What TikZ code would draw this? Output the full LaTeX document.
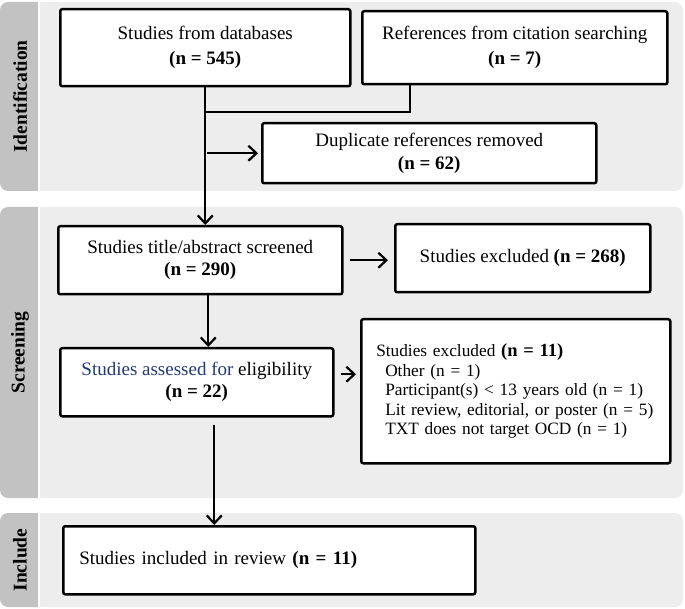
\documentclass[tikz,border=0pt]{standalone}
\usepackage{fontspec}
\setmainfont{Liberation Serif}
\usetikzlibrary{arrows.meta}
\definecolor{bandgray}{HTML}{EDEDED}
\definecolor{stripgray}{HTML}{C2C2C2}
\definecolor{darkblue}{HTML}{203A78}
\tikzset{
  box/.style={draw, line width=2.5pt, fill=white, rounded corners=2pt, inner sep=0pt,
    align=center, font=\fontsize{19}{25}\selectfont},
  arr/.style={-{Straight Barb[length=8pt,width=15pt]}, line width=2.2pt},
  link/.style={line width=2.2pt}
}
\begin{document}
\begin{tikzpicture}[x=1pt,y=-1pt]
  \useasboundingbox (0,0) rectangle (685,609);
  % stage bands
  \foreach \top/\bot/\stage in {2/191/Identification, 207/498/Screening, 513/607/Include}{
    \fill[stripgray, rounded corners=8pt] (0,\top) rectangle (48,\bot);
    \fill[white] (38,\top) rectangle (40,\bot);
    \fill[bandgray, rounded corners=8pt] (40,\top) rectangle (683,\bot);
    \fill[bandgray] (40,\top) rectangle (52,\bot);
    \node[rotate=90, font=\fontsize{19.5}{22}\selectfont\bfseries] (\stage) at (20,{(\top+\bot)/2}) {\stage};
  }
  % identification
  \node[box, anchor=north west, minimum width=290pt, minimum height=77pt] (db) at (59,8)
    {Studies from databases\\\textbf{(n = 545)}};
  \node[box, anchor=north west, minimum width=305pt, minimum height=73pt] (cit) at (361,10)
    {References from citation searching\\\textbf{(n = 7)}};
  \node[box, anchor=north west, minimum width=334pt, minimum height=60pt,
    font=\fontsize{19}{23}\selectfont] (dup) at (261,122)
    {Duplicate references removed\\\textbf{(n = 62)}};
  % screening
  \node[box, anchor=north west, minimum width=284pt, minimum height=68pt,
    font=\fontsize{19}{22}\selectfont] (scr) at (57,225)
    {Studies title/abstract screened\\\textbf{(n = 290)}};
  \node[box, anchor=north west, minimum width=255pt, minimum height=68pt] (ex1) at (394,223)
    {Studies excluded \textbf{(n = 268)}};
  \node[box, anchor=north west, minimum width=273pt, minimum height=68pt,
    font=\fontsize{19}{22}\selectfont] (elig) at (59,347)
    {\textcolor{darkblue}{Studies assessed for} eligibility\\\textbf{(n = 22)}};
  \node[box, anchor=north west, minimum width=309pt, minimum height=144pt, align=left,
    text width=279pt, inner xsep=15pt, font=\fontsize{17.3}{19.5}\selectfont] (ex2) at (360,318)
    {Studies excluded \textbf{\fontsize{18.5}{19.5}\selectfont(n = 11)}\\
     \hspace*{9pt}Other (n = 1)\\
     \hspace*{9pt}Participant(s) < 13 years old (n = 1)\\
     \hspace*{9pt}Lit review, editorial, or poster (n = 5)\\
     \hspace*{9pt}TXT does not target OCD (n = 1)};
  % include
  \node[box, anchor=north west, minimum width=412pt, minimum height=68pt, align=left,
    text width=380pt, inner xsep=16pt] (inc) at (62,525)
    {Studies included in review \textbf{(n = 11)}};
  % connectors
  \coordinate (join) at (204,112);
  \coordinate (citjoin) at (410,112);
  \draw[link] (citjoin |- cit.south) -- (citjoin) -- (join);
  \draw[arr] (db.south) -- (db.south |- scr.north);
  \draw[arr, shorten <=3pt, shorten >=3pt] (join |- dup.west) -- (dup.west);
  \draw[arr, shorten <=6pt, shorten >=6pt] (scr.east) -- (scr.east -| ex1.west);
  \draw[arr] ([xshift=8pt]scr.south) -- ([xshift=8pt]scr.south |- elig.north);
  \draw[arr, shorten <=6pt, shorten >=4pt] ([yshift=8pt]elig.east) -- ([yshift=8pt]elig.east -| ex2.west);
  \draw[arr, shorten <=7pt] ([xshift=17.5pt]elig.south) -- ([xshift=17.5pt]elig.south |- inc.north);
\end{tikzpicture}
\end{document}
